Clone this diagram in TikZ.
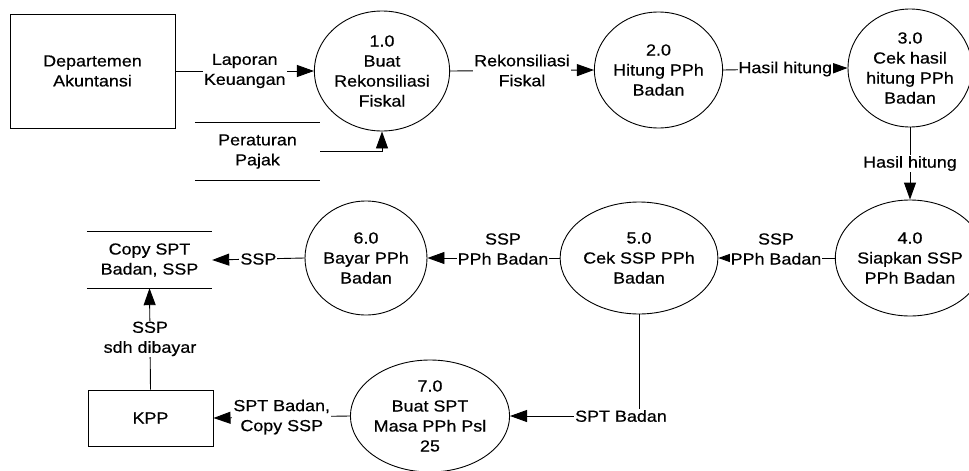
\documentclass[tikz,border=0pt]{standalone}
\usepackage{fontspec}
\setmainfont{Liberation Sans}[FakeStretch=1.12,FakeBold=0.5]
\usetikzlibrary{arrows.meta,shapes.geometric}
\begin{document}
\begin{tikzpicture}[x=1pt,y=-1pt,
  every node/.style={font=\fontsize{16}{20}\selectfont, align=center},
  ent/.style={draw, line width=1pt, rectangle, inner sep=0pt},
  proc/.style={draw, ellipse, line width=0.9pt, inner sep=0pt},
  store/.style={inner sep=0pt},
  lbl/.style={fill=white, inner sep=1pt},
  flow/.style={line width=0.9pt, -{Triangle[length=17pt,width=12pt]}},
  plain/.style={line width=1pt}
]
\useasboundingbox (0,0) rectangle (969,471);

% entities
\node[ent, minimum width=165pt, minimum height=114pt] (dept) at (92.5,71) {Departemen\\Akuntansi};
\node[ent, minimum width=125pt, minimum height=56pt] (kpp) at (150.5,418) {KPP};

% processes
\node[proc, minimum width=124pt, minimum height=120pt] (p1) at (382,71) {1.0\\Buat\\Rekonsiliasi\\Fiskal};
\node[proc, minimum width=123pt, minimum height=116pt] (p2) at (658.5,70) {2.0\\Hitung PPh\\Badan};
\node[proc, minimum width=116pt, minimum height=118pt] (p3) at (910,68) {3.0\\Cek hasil\\hitung PPh\\Badan};
\node[proc, minimum width=117pt, minimum height=116pt] (p4) at (910,258) {4.0\\Siapkan SSP\\PPh Badan};
\node[proc, minimum width=126pt, minimum height=112pt] (p5) at (639,258) {5.0\\Cek SSP PPh\\Badan};
\node[proc, minimum width=122pt, minimum height=114pt] (p6) at (366,258) {6.0\\Bayar PPh\\Badan};
\node[proc, minimum width=124pt, minimum height=112pt] (p7) at (430,416) {7.0\\Buat SPT\\Masa PPh Psl\\25};

% data stores
\node[store, minimum width=125pt, minimum height=57pt] (ds1) at (257.5,151.5) {Peraturan\\Pajak};
\draw[plain] (ds1.north west) -- (ds1.north east);
\draw[plain] (ds1.south west) -- (ds1.south east);
\node[store, minimum width=125pt, minimum height=56pt] (ds2) at (149.5,260) {Copy SPT\\Badan, SSP};
\draw[plain] (ds2.north west) -- (ds2.north east);
\draw[plain] (ds2.south west) -- (ds2.south east);

% flows
\draw[flow] (dept.east) -- node[lbl]{Laporan\\Keuangan} (p1.west);
\draw[flow] (ds1.east) -| (p1.south);
\draw[flow] (p1.east) -- node[lbl]{Rekonsiliasi\\Fiskal} (p2.west);
\draw[flow] (p2.east) -- node[lbl, inner sep=0.5pt]{Hasil hitung} (p3.west);
\draw[flow] (p3.south) -- node[lbl]{Hasil hitung} (p4.north);
\draw[flow] (p4.west) -- (p5.east);
\node[lbl] (l45) at (776,249) {SSP\\PPh Badan};
\draw[flow] (p5.west) -- (p6.east);
\node[lbl] (l56) at (503,249) {SSP\\PPh Badan};
\draw[flow] (p6.west) -- node[lbl]{SSP} (ds2.east);
\draw[flow] (kpp.north) -- node[lbl]{SSP\\sdh dibayar} (ds2.south);
\draw[flow] (p5.south) |- (p7.east);
\node[lbl] (l57) at (621,416) {SPT Badan};
\draw[flow] (p7.west) -- node[lbl]{SPT Badan,\\Copy SSP} (kpp.east);
\end{tikzpicture}
\end{document}
